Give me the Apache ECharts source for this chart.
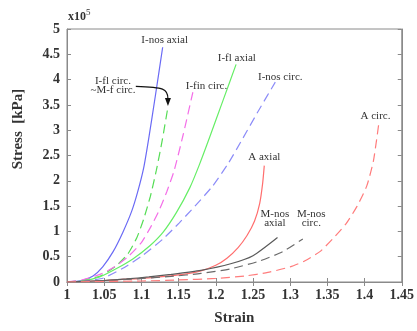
<!DOCTYPE html>
<html><head><meta charset="utf-8">
<script src="https://cdn.jsdelivr.net/npm/echarts@6/dist/echarts.min.js"></script>
<style>html,body{margin:0;padding:0;background:#fff}#c{width:417px;height:331px}</style>
</head><body><div id="c"></div>
<script>
// ---- data (strain, stress x10^5 kPa) ----
var xTicks = [1, 1.05, 1.1, 1.15, 1.2, 1.25, 1.3, 1.35, 1.4, 1.45];
var yTicks = [0, 0.5, 1, 1.5, 2, 2.5, 3, 3.5, 4, 4.5, 5];

var inosAxialX = [1.0, 1.02, 1.035, 1.048, 1.062, 1.075, 1.087, 1.095, 1.103, 1.11, 1.119, 1.1286];
var inosAxialY = [0, 0.03, 0.12, 0.3, 0.6, 0.98, 1.4, 1.78, 2.25, 2.85, 3.7, 4.64];

var iflCircX = [1.0, 1.02, 1.045, 1.066, 1.082, 1.094, 1.103, 1.112, 1.12, 1.128, 1.1357];
var iflCircY = [0, 0.03, 0.12, 0.32, 0.56, 0.88, 1.24, 1.69, 2.2, 2.8, 3.46];

var ifinCircX = [1.0, 1.02, 1.046, 1.064, 1.082, 1.1, 1.113, 1.124, 1.134, 1.144, 1.156, 1.1692];
var ifinCircY = [0, 0.04, 0.16, 0.3, 0.5, 0.78, 1.1, 1.42, 1.78, 2.2, 2.9, 3.75];

var iflAxialX = [1.0, 1.02, 1.044, 1.066, 1.089, 1.111, 1.129, 1.147, 1.165, 1.178, 1.1915, 1.21, 1.2273];
var iflAxialY = [0, 0.02, 0.1, 0.26, 0.46, 0.71, 0.98, 1.37, 1.86, 2.32, 2.85, 3.6, 4.3];

var inosCircX = [1.0, 1.025, 1.049, 1.075, 1.102, 1.129, 1.151, 1.172, 1.196, 1.217, 1.236, 1.258, 1.28];
var inosCircY = [0, 0.02, 0.08, 0.27, 0.53, 0.85, 1.17, 1.5, 1.9, 2.35, 2.83, 3.4, 3.95];

var aAxialX = [1.0, 1.05, 1.1, 1.15, 1.18, 1.2, 1.215, 1.23, 1.242, 1.252, 1.259, 1.263, 1.2652];
var aAxialY = [0, 0.03, 0.07, 0.14, 0.22, 0.33, 0.47, 0.68, 0.92, 1.2, 1.55, 1.95, 2.3];

var mnosAxialX = [1.0, 1.05, 1.08, 1.11, 1.14, 1.18, 1.22, 1.25, 1.283];
var mnosAxialY = [0, 0.03, 0.06, 0.1, 0.15, 0.23, 0.36, 0.52, 0.88];

var mnosCircX = [1.0, 1.05, 1.08, 1.14, 1.18, 1.22, 1.26, 1.29, 1.317];
var mnosCircY = [0, 0.025, 0.05, 0.11, 0.17, 0.26, 0.42, 0.6, 0.85];

var aCircX = [1.0, 1.1, 1.15, 1.2, 1.24, 1.27, 1.3, 1.32, 1.34, 1.357, 1.375, 1.39, 1.403, 1.412, 1.4192];
var aCircY = [0, 0.02, 0.04, 0.07, 0.12, 0.19, 0.3, 0.42, 0.6, 0.85, 1.15, 1.5, 1.9, 2.4, 3.14];

// annotation labels: text, strain, stress
var labelTexts = ['I-nos axial', 'I-fl circ.\n~M-f circ.', 'I-fin circ.', 'I-fl axial', 'I-nos circ.', 'A circ.', 'A axial', 'M-nos\naxial', 'M-nos\ncirc.'];
var labelX = [1.1313, 1.0618, 1.1875, 1.2283, 1.2867, 1.4147, 1.2652, 1.2794, 1.3284];
var labelY = [4.78, 3.89, 3.875, 4.425, 4.058, 3.285, 2.46, 1.255, 1.255];

function pairs(xs, ys) { return xs.map(function (x, i) { return [x, ys[i]]; }); }
function fmt(v) { return String(Number(v.toFixed(2))); }

var serif = 'Liberation Serif';
var axisColor = '#8a8a8a';
var chart = echarts.init(document.getElementById('c'), null, {renderer: 'canvas'});

function mk(name, xs, ys, color, dashed) {
  return {
    name: name, type: 'line', data: pairs(xs, ys), showSymbol: false,
    smooth: 0.2,
    lineStyle: {color: color, width: 1.2, type: dashed ? [9, 5] : 'solid'},
    z: 3, silent: true
  };
}

function axis(kind, pos, show) {
  var isX = kind === 'x';
  return {
    type: 'value', position: pos,
    min: isX ? xTicks[0] : yTicks[0],
    max: isX ? xTicks[xTicks.length - 1] : yTicks[yTicks.length - 1],
    interval: isX ? 0.05 : 0.5,
    axisLine: {show: true, lineStyle: {color: axisColor}},
    axisTick: {show: true, inside: true, length: 4, lineStyle: {color: axisColor}},
    axisLabel: show ? {formatter: fmt, fontFamily: serif, fontWeight: 'bold', fontSize: 14, color: '#333', margin: isX ? 6 : 7} : {show: false},
    splitLine: {show: false}
  };
}

var xMain = axis('x', 'bottom', true);
xMain.name = 'Strain';
xMain.nameLocation = 'middle';
xMain.nameGap = 29;
xMain.nameTextStyle = {fontFamily: serif, fontWeight: 'bold', fontSize: 15, color: '#333'};

chart.setOption({
  animation: false,
  backgroundColor: '#fff',
  grid: {left: 67, right: 14, top: 29, bottom: 43.5, show: true, borderColor: axisColor, borderWidth: 1},
  xAxis: [xMain, axis('x', 'top', false)],
  yAxis: [axis('y', 'left', true), axis('y', 'right', false)],
  series: [
    mk('I-nos axial', inosAxialX, inosAxialY, '#6a6af5', false),
    mk('I-fl circ.', iflCircX, iflCircY, '#55dd55', true),
    mk('I-fin circ.', ifinCircX, ifinCircY, '#f46ee8', true),
    mk('I-fl axial', iflAxialX, iflAxialY, '#66ee66', false),
    mk('I-nos circ.', inosCircX, inosCircY, '#8c8cf8', true),
    mk('A axial', aAxialX, aAxialY, '#ff6e6e', false),
    mk('M-nos axial', mnosAxialX, mnosAxialY, '#5a5a5a', false),
    mk('M-nos circ.', mnosCircX, mnosCircY, '#6a6a6a', true),
    mk('A circ.', aCircX, aCircY, '#ff7c7c', true)
  ]
});

// annotations positioned through the chart's own scales
var g = [];
labelTexts.forEach(function (t, i) {
  var p = chart.convertToPixel({gridIndex: 0}, [labelX[i], labelY[i]]);
  g.push({type: 'text', x: p[0], y: p[1], z: 10, style: {text: t, fontFamily: serif, fontSize: 11, fill: '#333', align: 'center', verticalAlign: 'middle', lineHeight: 9}});
});
// arrow from the "I-fl circ." label to the end of the I-fl circ. curve
var a0 = chart.convertToPixel({gridIndex: 0}, [1.0925, 3.865]);
var tip = chart.convertToPixel({gridIndex: 0}, [iflCircX[iflCircX.length - 1], iflCircY[iflCircY.length - 1]]);
tip[1] -= 1;
g.push({type: 'bezierCurve', z: 10, shape: {x1: a0[0], y1: a0[1], x2: tip[0], y2: tip[1] - 7, cpx1: tip[0] - 4, cpy1: a0[1] + 1, cpx2: tip[0], cpy2: a0[1] + 2}, style: {stroke: '#111', lineWidth: 1.2, fill: null}});
g.push({type: 'polygon', z: 10, shape: {points: [[tip[0], tip[1]], [tip[0] - 3, tip[1] - 8], [tip[0] + 3, tip[1] - 8]]}, style: {fill: '#111'}});
// axis title and exponent
g.push({type: 'text', x: 18, y: 129, rotation: Math.PI / 2, z: 10, style: {text: 'Stress  [kPa]', fontFamily: serif, fontWeight: 'bold', fontSize: 15, fill: '#333', align: 'center', verticalAlign: 'middle'}});
g.push({type: 'text', x: 68, y: 8, z: 10, style: {rich: {b: {fontFamily: serif, fontSize: 12, fontWeight: 'bold', fill: '#333'}, s: {fontFamily: serif, fontSize: 9, fill: '#333', padding: [0, 0, 8, 0]}}, text: '{b|x10}{s|5}'}});
chart.setOption({graphic: g});
</script>
</body></html>
